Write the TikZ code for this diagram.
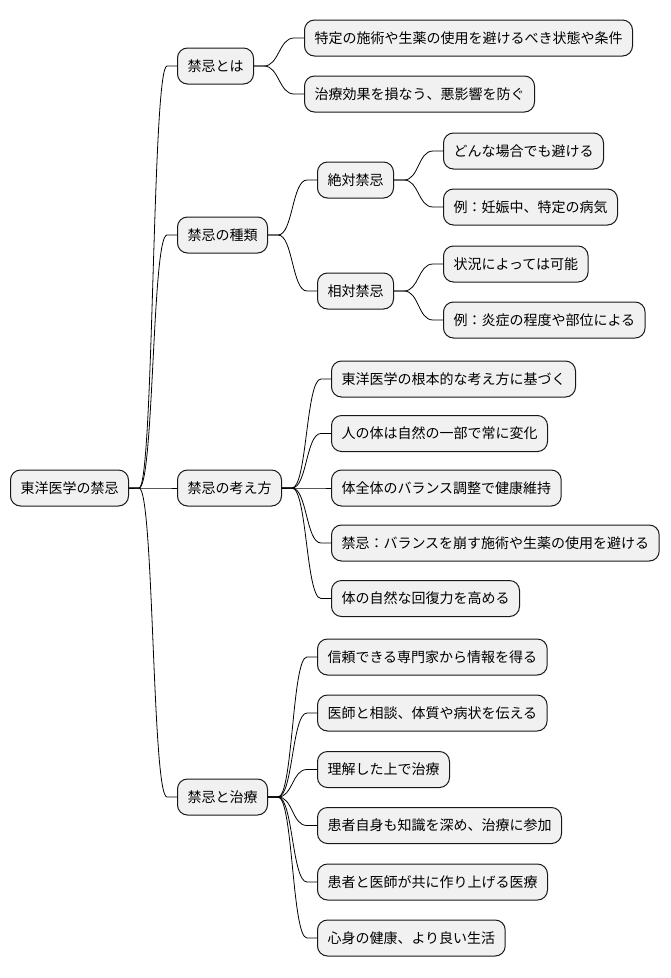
\documentclass[tikz,border=0pt]{standalone}
\usepackage{fontspec}
\setmainfont{Noto Sans CJK JP}
\usetikzlibrary{calc}
\definecolor{boxfill}{HTML}{F1F1F1}
\definecolor{boxline}{HTML}{181818}
\tikzset{
  mm/.style={draw=boxline, line width=1pt, fill=boxfill, rounded corners=10pt,
    minimum height=36pt, inner xsep=10pt, inner ysep=0pt, anchor=west,
    font=\fontsize{14pt}{16pt}\selectfont, text=black},
  link/.style={draw=black, line width=0.8pt,
    to path={-- ++(10pt,0) .. controls +(15pt,0) and ($(\tikztotarget)+(-25pt,0)$) .. ($(\tikztotarget)+(-10pt,0)$) -- (\tikztotarget)}}
}
\begin{document}
\begin{tikzpicture}[x=1pt,y=-1pt]
\useasboundingbox (0,0) rectangle (670,978);
\node[mm] (r) at (10,488) {東洋医学の禁忌};
\node[mm] (a) at (177,66) {禁忌とは};
\node[mm] (a1) at (304,38) {特定の施術や生薬の使用を避けるべき状態や条件};
\node[mm] (a2) at (304,94) {治療効果を損なう、悪影響を防ぐ};
\node[mm] (b) at (177,235) {禁忌の種類};
\node[mm] (b1) at (317,180) {絶対禁忌};
\node[mm] (b11) at (443,151) {どんな場合でも避ける};
\node[mm] (b12) at (443,207) {例：妊娠中、特定の病気};
\node[mm] (b2) at (317,291) {相対禁忌};
\node[mm] (b21) at (443,264) {状況によっては可能};
\node[mm] (b22) at (443,320) {例：炎症の程度や部位による};
\node[mm] (c) at (177,488) {禁忌の考え方};
\node[mm] (c1) at (331,379) {東洋医学の根本的な考え方に基づく};
\node[mm] (c2) at (331,433.5) {人の体は自然の一部で常に変化};
\node[mm] (c3) at (331,488) {体全体のバランス調整で健康維持};
\node[mm] (c4) at (331,543) {禁忌：バランスを崩す施術や生薬の使用を避ける};
\node[mm] (c5) at (331,598.5) {体の自然な回復力を高める};
\node[mm] (d) at (177,797) {禁忌と治療};
\node[mm] (d1) at (317,657) {信頼できる専門家から情報を得る};
\node[mm] (d2) at (317,713) {医師と相談、体質や病状を伝える};
\node[mm] (d3) at (317,769.5) {理解した上で治療};
\node[mm] (d4) at (317,825.5) {患者自身も知識を深め、治療に参加};
\node[mm] (d5) at (317,882) {患者と医師が共に作り上げる医療};
\node[mm] (d6) at (317,938) {心身の健康、より良い生活};
\foreach \p/\c in {r/a,r/b,r/c,r/d,a/a1,a/a2,b/b1,b/b2,b1/b11,b1/b12,b2/b21,b2/b22,c/c1,c/c2,c/c3,c/c4,c/c5,d/d1,d/d2,d/d3,d/d4,d/d5,d/d6}
  \draw[link] (\p.east) to (\c.west);
\end{tikzpicture}
\end{document}
